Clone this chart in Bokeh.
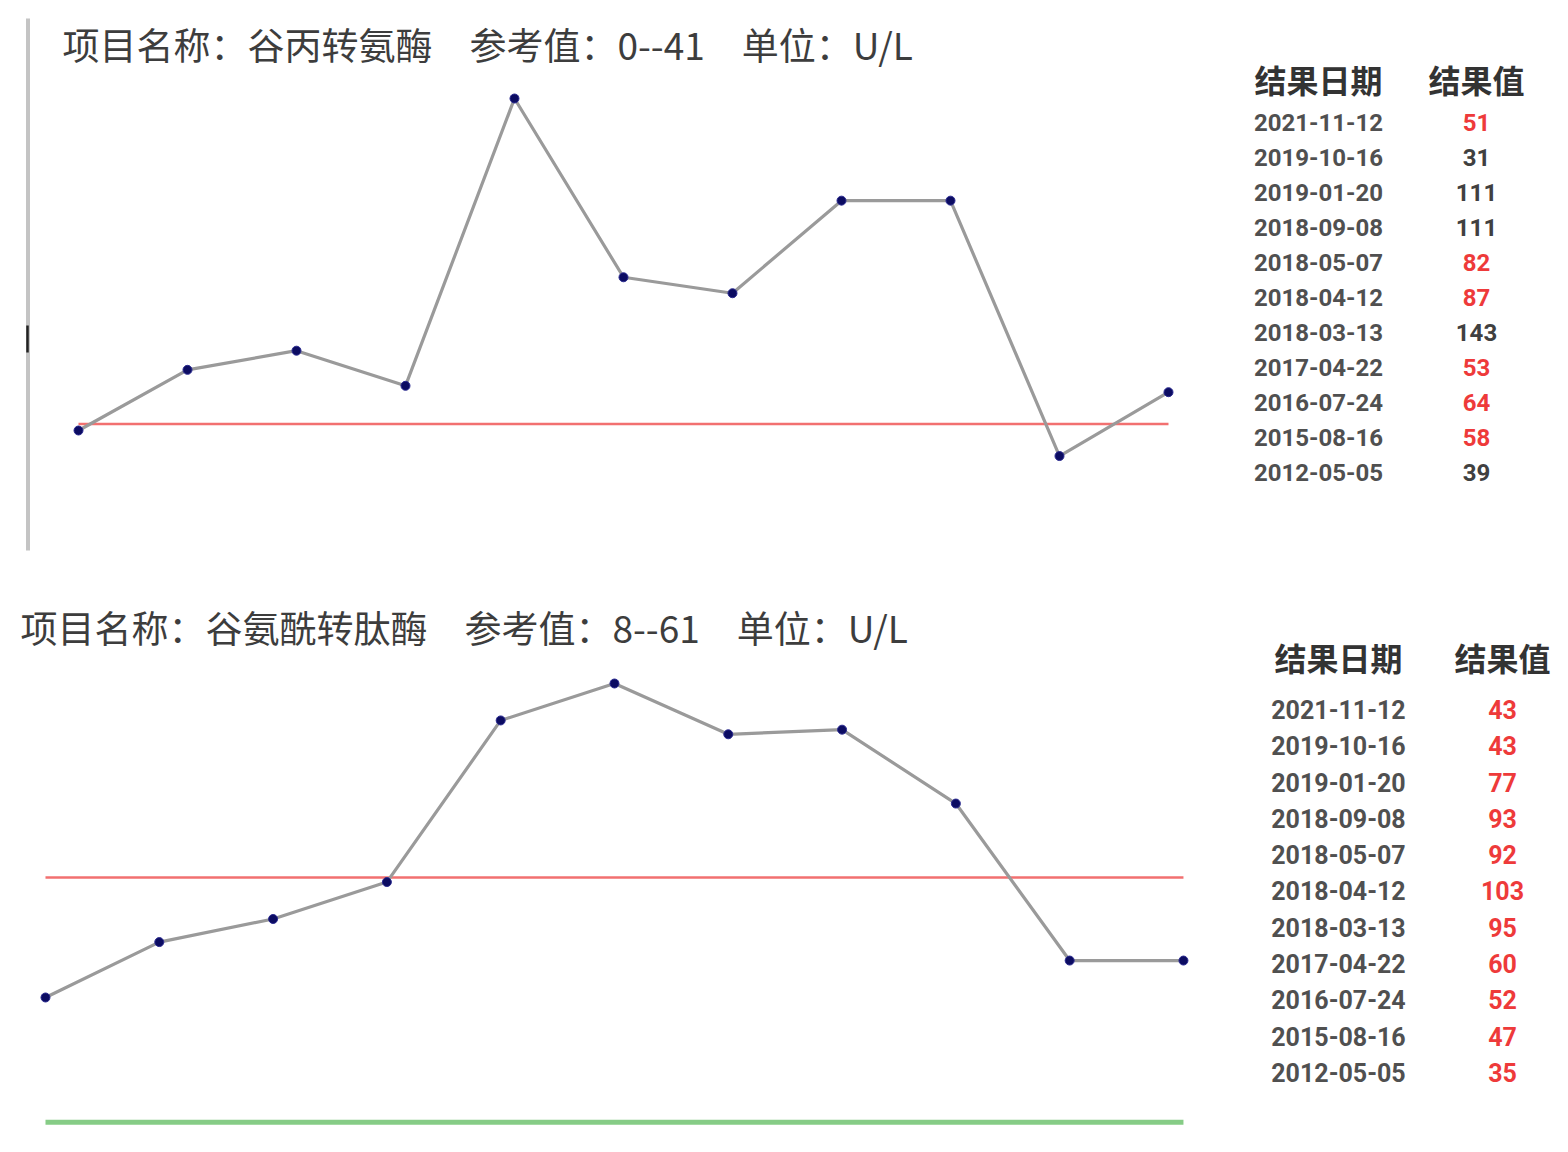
from bokeh.plotting import figure
from bokeh.models import Range1d, Label
from bokeh.layouts import column
from bokeh.embed import file_html
from bokeh.resources import INLINE
from bokeh.core.properties import value

# ---------------- data ----------------
dates = ["2012-05-05", "2015-08-16", "2016-07-24", "2017-04-22", "2018-03-13",
         "2018-04-12", "2018-05-07", "2018-09-08", "2019-01-20", "2019-10-16",
         "2021-11-12"]

alt_name = "谷丙转氨酶"
alt_ref_low, alt_ref_high = 0, 41
alt_values = [39, 58, 64, 53, 143, 87, 82, 111, 111, 31, 51]
alt_flag = [False, True, True, True, False, True, True, False, False, False, True]

ggt_name = "谷氨酰转肽酶"
ggt_ref_low, ggt_ref_high = 8, 61
ggt_values = [35, 47, 52, 60, 95, 103, 92, 93, 77, 43, 43]
ggt_flag = [True] * 11

unit = "U/L"
header = ["结果日期", "结果值"]

W, H = 1552, 576
CJK_NAME = "Noto Sans CJK SC"
CJK = value(CJK_NAME)
NUM = value("Roboto")


def panel(name, lo, hi, vals, flags, xr, yr, txr, tyr, pxy, title_xy, hdr_row,
          num_size, draw_lower, axis_deco):
    p = figure(width=W, height=H, x_range=Range1d(*xr), y_range=Range1d(*yr),
               output_backend="svg", toolbar_location=None, title=None,
               x_axis_location=None, y_axis_location=None,
               min_border=0, min_border_left=0, min_border_right=0,
               min_border_top=0, min_border_bottom=0)
    p.grid.visible = False
    p.outline_line_color = None
    p.background_fill_color = "white"
    p.border_fill_color = "white"
    p.extra_x_ranges = {"tbl": Range1d(*txr), "px": Range1d(0, W)}
    p.extra_y_ranges = {"tbl": Range1d(*tyr), "px": Range1d(*pxy)}

    n = len(vals)
    idx = list(range(n))

    if axis_deco:
        p.segment(x0=[27.5], y0=[18], x1=[27.5], y1=[550], x_range_name="px",
                  y_range_name="px", line_color="#c4c4c4", line_width=4)
        p.segment(x0=[27], y0=[325], x1=[27], y1=[352], x_range_name="px",
                  y_range_name="px", line_color="#222222", line_width=2.5)

    # reference lines
    p.line(x=[idx[0], idx[-1]], y=[hi, hi], line_color="#f27070", line_width=2.5)
    if draw_lower:
        p.line(x=[idx[0], idx[-1]], y=[lo, lo], line_color="#86cc86", line_width=5)

    # data
    p.line(x=idx, y=vals, line_color="#9a9a9a", line_width=3.2)
    p.scatter(x=idx, y=vals, size=9, fill_color="#0c0c62", line_color="#2a2a90",
              line_width=1)

    # title
    p.add_layout(Label(x=title_xy[0], y=title_xy[1], x_range_name="px", y_range_name="px",
                       text=f"项目名称：{name}　参考值：{lo}--{hi}　单位：{unit}",
                       text_font=CJK_NAME, text_font_size="37px", text_color="#3d3d3d",
                       text_baseline="middle", text_align="left"))

    # table (newest first)
    rows = list(range(n))
    d_desc = dates[::-1]
    v_desc = [str(v) for v in vals[::-1]]
    c_desc = ["#ee3a3a" if f else "#404040" for f in flags[::-1]]
    p.text(x=[0, 1], y=[hdr_row, hdr_row], text=header, x_range_name="tbl",
           y_range_name="tbl", text_font=CJK, text_font_style="bold",
           text_font_size="32px", text_color="#333333", text_align="center",
           text_baseline="middle")
    p.text(x=[0] * n, y=rows, text=d_desc, x_range_name="tbl", y_range_name="tbl",
           text_font=NUM, text_font_style="bold", text_font_size=num_size,
           text_color="#505050", text_align="center", text_baseline="middle")
    p.text(x=[1] * n, y=rows, text=v_desc, text_color=c_desc, x_range_name="tbl",
           y_range_name="tbl", text_font=NUM, text_font_style="bold",
           text_font_size=num_size, text_align="center", text_baseline="middle")
    return p


p1 = panel(alt_name, alt_ref_low, alt_ref_high, alt_values, alt_flag,
           xr=(-0.7156, 13.523), yr=(-6.735, 173.70),
           txr=(-8.342, 1.481), tyr=(12.971, -3.486), pxy=(576, 0),
           title_xy=(62, 43), hdr_row=-1.25, num_size="24px",
           draw_lower=False, axis_deco=True)

p2 = panel(ggt_name, ggt_ref_low, ggt_ref_high, ggt_values, ggt_flag,
           xr=(-0.3954, 13.243), yr=(1.433, 126.172),
           txr=(-8.159, 1.305), tyr=(12.204, -3.664), pxy=(1152, 576),
           title_xy=(20, 626), hdr_row=-1.45, num_size="25px",
           draw_lower=True, axis_deco=False)

layout = column(p1, p2, spacing=0)
open("out.html", "w").write(file_html(layout, INLINE))
